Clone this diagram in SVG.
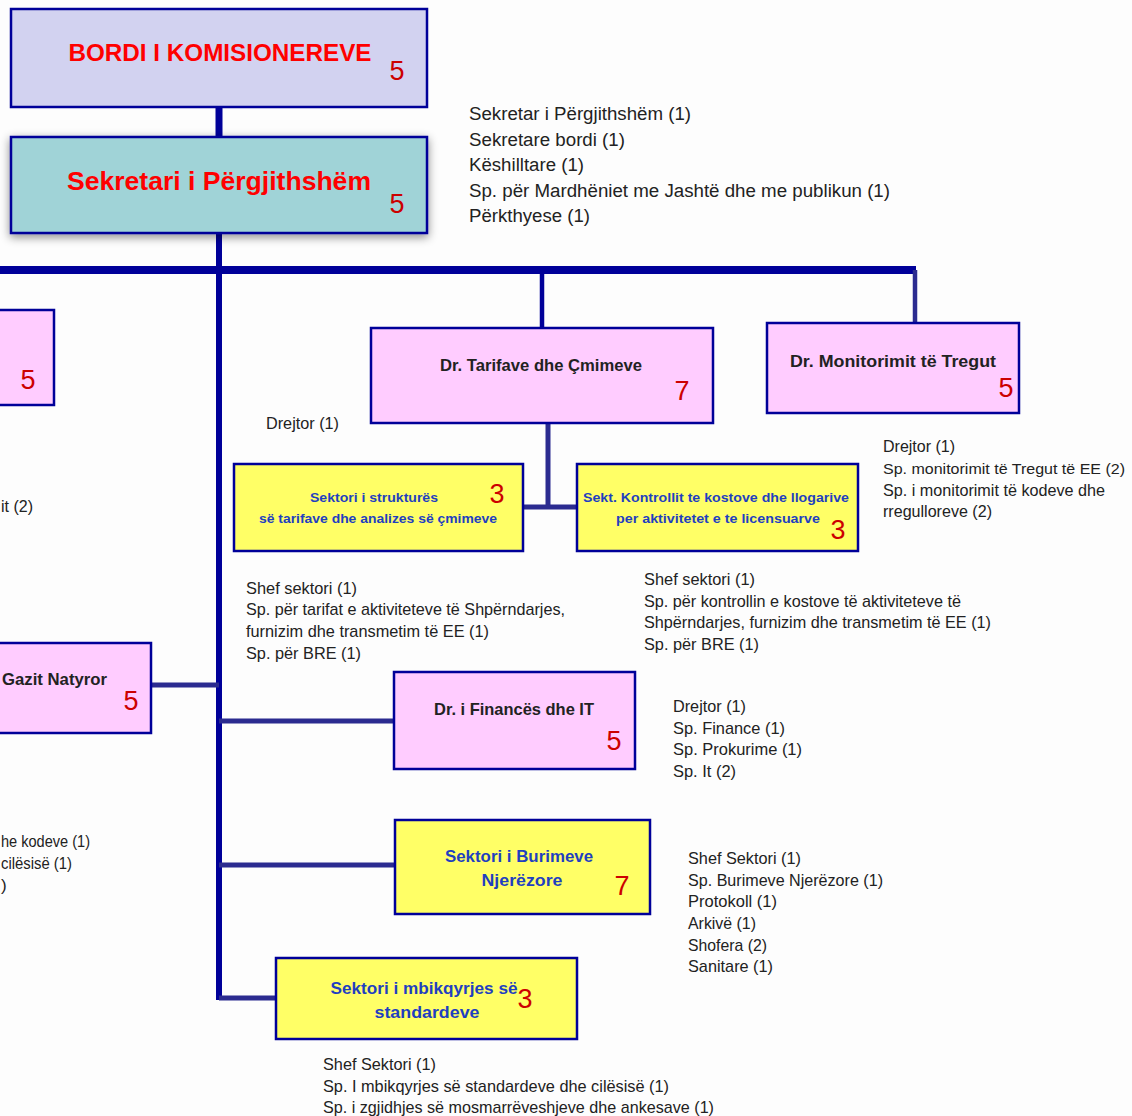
<svg xmlns="http://www.w3.org/2000/svg" width="1132" height="1116" viewBox="0 0 1132 1116">
<defs>
<filter id="sh" x="-10%" y="-20%" width="120%" height="150%">
<feDropShadow dx="0" dy="3" stdDeviation="5" flood-color="#000" flood-opacity="0.45"/>
</filter>
</defs>
<style>
.box{stroke:#000099;stroke-width:2.5}
.pink{fill:#FFCCFF}
.yel{fill:#FFFF66}
.ln{stroke:#000099;fill:none}
.ln2{stroke:#2B2B90;fill:none}
.t{font-family:"Liberation Sans",Arial,sans-serif;font-size:17px;fill:#222}
.tr{font-family:"Liberation Sans",Arial,sans-serif;font-size:18px;fill:#222}
.nt{font-family:"Liberation Sans",Arial,sans-serif;font-size:17px;font-weight:bold;fill:#222}
.yt{font-family:"Liberation Sans",Arial,sans-serif;font-size:17px;font-weight:bold;fill:#1F3FC0}
.ys{font-family:"Liberation Sans",Arial,sans-serif;font-size:12.5px;font-weight:bold;fill:#1F3FC0}
.num{font-family:"Liberation Sans",Arial,sans-serif;font-size:27px;fill:#CC0000}
.title{font-family:"Liberation Sans",Arial,sans-serif;font-weight:bold;fill:#FF0000}
</style>
<rect width="1132" height="1116" fill="#FDFDFD"/>

<g id="connectors">
<line class="ln" x1="219" y1="107" x2="219" y2="137" stroke-width="7"/>
<line class="ln" x1="219" y1="233" x2="219" y2="1000" stroke-width="6"/>
<line class="ln" x1="0" y1="270" x2="916" y2="270" stroke-width="8"/>
<line class="ln" x1="542" y1="270" x2="542" y2="328" stroke-width="4.5"/>
<line class="ln2" x1="915" y1="270" x2="915" y2="323" stroke-width="4.5"/>
<line class="ln2" x1="548" y1="423" x2="548" y2="508" stroke-width="5"/>
<line class="ln2" x1="523" y1="507" x2="577" y2="507" stroke-width="5"/>
<line class="ln2" x1="151" y1="685" x2="219" y2="685" stroke-width="5"/>
<line class="ln2" x1="219" y1="721" x2="394" y2="721" stroke-width="5"/>
<line class="ln2" x1="219" y1="865" x2="395" y2="865" stroke-width="5"/>
<line class="ln2" x1="219" y1="998" x2="276" y2="998" stroke-width="5"/>
</g>

<g id="bordi">
<rect class="box" x="11" y="9" width="416" height="98" fill="#D2D2F0"/>
<text class="title" x="220" y="61" font-size="23" text-anchor="middle" textLength="303" lengthAdjust="spacingAndGlyphs">BORDI I KOMISIONEREVE</text>
<text class="num" x="397" y="80" text-anchor="middle">5</text>
</g>

<g id="sekretari">
<rect class="box" x="11" y="137" width="416" height="96" fill="#A0D3D7" filter="url(#sh)"/>
<text class="title" x="219" y="190" font-size="26.5" text-anchor="middle" textLength="304" lengthAdjust="spacingAndGlyphs">Sekretari i Përgjithshëm</text>
<text class="num" x="397" y="213" text-anchor="middle">5</text>
</g>

<g id="sekretari-staff">
<text class="tr" x="469" y="120" textLength="222" lengthAdjust="spacingAndGlyphs">Sekretar i Përgjithshëm (1)</text>
<text class="tr" x="469" y="146" textLength="156" lengthAdjust="spacingAndGlyphs">Sekretare bordi (1)</text>
<text class="tr" x="469" y="171" textLength="115" lengthAdjust="spacingAndGlyphs">Këshilltare (1)</text>
<text class="tr" x="469" y="197" textLength="421" lengthAdjust="spacingAndGlyphs">Sp. për Mardhëniet  me Jashtë dhe me publikun (1)</text>
<text class="tr" x="469" y="222" textLength="121" lengthAdjust="spacingAndGlyphs">Përkthyese (1)</text>
</g>

<g id="left-dir">
<rect class="box pink" x="-3" y="310" width="57" height="95"/>
<text class="num" x="28" y="389" text-anchor="middle">5</text>
<text class="t" x="1" y="512" textLength="32" lengthAdjust="spacingAndGlyphs">it (2)</text>
</g>

<g id="tarifave">
<rect class="box pink" x="371" y="328" width="342" height="95"/>
<text class="nt" x="541" y="371" text-anchor="middle" textLength="202" lengthAdjust="spacingAndGlyphs">Dr. Tarifave dhe Çmimeve</text>
<text class="num" x="682" y="400" text-anchor="middle">7</text>
<text class="t" x="266" y="429" textLength="73" lengthAdjust="spacingAndGlyphs">Drejtor (1)</text>
</g>

<g id="monitorimit">
<rect class="box pink" x="767" y="323" width="252" height="90"/>
<text class="nt" x="893" y="367" text-anchor="middle" textLength="206" lengthAdjust="spacingAndGlyphs">Dr. Monitorimit  të Tregut</text>
<text class="num" x="1006" y="397" text-anchor="middle">5</text>
<text class="t" x="883" y="452" textLength="72" lengthAdjust="spacingAndGlyphs">Drejtor (1)</text>
<text class="t" x="883" y="474" style="font-size:15.5px" textLength="242" lengthAdjust="spacingAndGlyphs">Sp. monitorimit të Tregut të EE (2)</text>
<text class="t" x="883" y="496" textLength="222" lengthAdjust="spacingAndGlyphs">Sp. i monitorimit të kodeve dhe</text>
<text class="t" x="883" y="517" textLength="109" lengthAdjust="spacingAndGlyphs">rregulloreve  (2)</text>
</g>

<g id="sektori-struktures">
<rect class="box yel" x="234" y="464" width="289" height="87"/>
<text class="ys" x="374" y="502" text-anchor="middle" textLength="128" lengthAdjust="spacingAndGlyphs">Sektori i strukturës</text>
<text class="ys" x="378" y="523" text-anchor="middle" textLength="238" lengthAdjust="spacingAndGlyphs">së tarifave dhe analizes  së çmimeve</text>
<text class="num" x="497" y="503" text-anchor="middle">3</text>
<text class="t" x="246" y="594" textLength="111" lengthAdjust="spacingAndGlyphs">Shef sektori (1)</text>
<text class="t" x="246" y="615" textLength="319" lengthAdjust="spacingAndGlyphs">Sp. për tarifat e aktiviteteve të Shpërndarjes,</text>
<text class="t" x="246" y="637" textLength="243" lengthAdjust="spacingAndGlyphs">furnizim dhe transmetim të EE (1)</text>
<text class="t" x="246" y="659" textLength="115" lengthAdjust="spacingAndGlyphs">Sp. për BRE (1)</text>
</g>

<g id="sekt-kontrollit">
<rect class="box yel" x="577" y="464" width="281" height="87"/>
<text class="ys" x="716" y="502" text-anchor="middle" textLength="266" lengthAdjust="spacingAndGlyphs">Sekt. Kontrollit  te kostove dhe  llogarive</text>
<text class="ys" x="718" y="523" text-anchor="middle" textLength="204" lengthAdjust="spacingAndGlyphs">per aktivitetet  e te licensuarve</text>
<text class="num" x="838" y="539" text-anchor="middle">3</text>
<text class="t" x="644" y="585" textLength="111" lengthAdjust="spacingAndGlyphs">Shef sektori (1)</text>
<text class="t" x="644" y="607" textLength="317" lengthAdjust="spacingAndGlyphs">Sp. për kontrollin e kostove të aktiviteteve të</text>
<text class="t" x="644" y="628" textLength="347" lengthAdjust="spacingAndGlyphs">Shpërndarjes, furnizim dhe transmetim të EE (1)</text>
<text class="t" x="644" y="650" textLength="115" lengthAdjust="spacingAndGlyphs">Sp. për BRE (1)</text>
</g>

<g id="gazit">
<rect class="box pink" x="-3" y="643" width="154" height="90"/>
<text class="nt" x="2" y="685" textLength="105" lengthAdjust="spacingAndGlyphs">Gazit Natyror</text>
<text class="num" x="131" y="710" text-anchor="middle">5</text>
<text class="t" x="1" y="847" textLength="89" lengthAdjust="spacingAndGlyphs">he kodeve (1)</text>
<text class="t" x="1" y="869" textLength="71" lengthAdjust="spacingAndGlyphs">cilësisë (1)</text>
<text class="t" x="1" y="891">)</text>
</g>

<g id="financa">
<rect class="box pink" x="394" y="672" width="241" height="97"/>
<text class="nt" x="514" y="715" text-anchor="middle" textLength="160" lengthAdjust="spacingAndGlyphs">Dr. i Financës dhe IT</text>
<text class="num" x="614" y="750" text-anchor="middle">5</text>
<text class="t" x="673" y="712" textLength="73" lengthAdjust="spacingAndGlyphs">Drejtor (1)</text>
<text class="t" x="673" y="734" textLength="112" lengthAdjust="spacingAndGlyphs">Sp. Finance (1)</text>
<text class="t" x="673" y="755" textLength="129" lengthAdjust="spacingAndGlyphs">Sp. Prokurime (1)</text>
<text class="t" x="673" y="777" textLength="63" lengthAdjust="spacingAndGlyphs">Sp. It (2)</text>
</g>

<g id="burimeve">
<rect class="box yel" x="395" y="820" width="255" height="94"/>
<text class="yt" x="519" y="862" text-anchor="middle" textLength="148" lengthAdjust="spacingAndGlyphs">Sektori i Burimeve</text>
<text class="yt" x="522" y="886" text-anchor="middle" textLength="81" lengthAdjust="spacingAndGlyphs">Njerëzore</text>
<text class="num" x="622" y="895" text-anchor="middle">7</text>
<text class="t" x="688" y="864" textLength="113" lengthAdjust="spacingAndGlyphs">Shef Sektori (1)</text>
<text class="t" x="688" y="886" textLength="195" lengthAdjust="spacingAndGlyphs">Sp. Burimeve Njerëzore (1)</text>
<text class="t" x="688" y="907" textLength="89" lengthAdjust="spacingAndGlyphs">Protokoll (1)</text>
<text class="t" x="688" y="929" textLength="68" lengthAdjust="spacingAndGlyphs">Arkivë (1)</text>
<text class="t" x="688" y="951" textLength="79" lengthAdjust="spacingAndGlyphs">Shofera (2)</text>
<text class="t" x="688" y="972" textLength="85" lengthAdjust="spacingAndGlyphs">Sanitare (1)</text>
</g>

<g id="mbikqyrjes">
<rect class="box yel" x="276" y="958" width="301" height="81"/>
<text class="yt" x="424" y="994" text-anchor="middle" textLength="187" lengthAdjust="spacingAndGlyphs">Sektori i mbikqyrjes së</text>
<text class="yt" x="427" y="1018" text-anchor="middle" textLength="105" lengthAdjust="spacingAndGlyphs">standardeve</text>
<text class="num" x="525" y="1008" text-anchor="middle">3</text>
<text class="t" x="323" y="1070" textLength="113" lengthAdjust="spacingAndGlyphs">Shef Sektori (1)</text>
<text class="t" x="323" y="1092" textLength="346" lengthAdjust="spacingAndGlyphs">Sp. I mbikqyrjes së standardeve dhe cilësisë (1)</text>
<text class="t" x="323" y="1113" textLength="391" lengthAdjust="spacingAndGlyphs">Sp. i zgjidhjes së mosmarrëveshjeve dhe ankesave (1)</text>
</g>
</svg>
